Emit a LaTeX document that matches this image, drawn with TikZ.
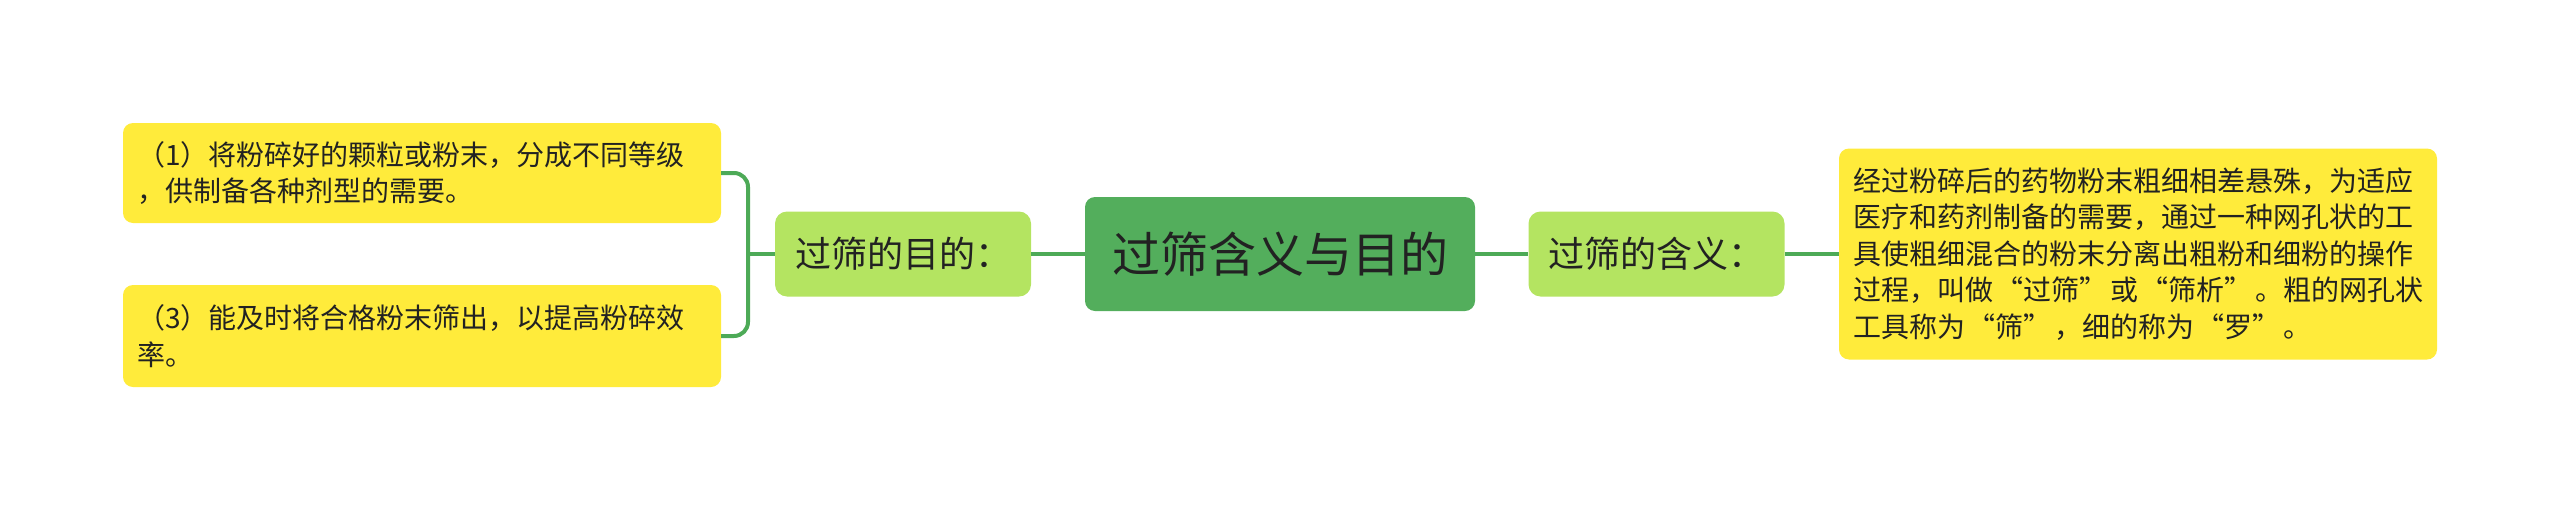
\documentclass[tikz,border=0pt]{standalone}
\usepackage{fontspec}
\setmainfont{Noto Sans CJK SC}
\newcommand\myqo{\kern0.09em“}
\newcommand\myqc{”\kern0.09em}
\definecolor{lineg}{HTML}{4DAA57}
\definecolor{rootg}{HTML}{53AE5C}
\definecolor{brg}{HTML}{B4E461}
\definecolor{leafy}{HTML}{FFEB3B}
\definecolor{txt}{HTML}{222222}
\begin{document}
\begin{tikzpicture}[x=1pt,y=-1pt,
  conn/.style={draw=lineg, line width=4pt},
  leaf/.style={fill=leafy, rounded corners=10pt, text width=570pt, align=left, inner sep=14pt, font=\fontsize{28pt}{36.6pt}\selectfont, text=txt},
  branch/.style={fill=brg, rounded corners=12pt, minimum width=256pt, minimum height=85pt, inner sep=0pt, font=\fontsize{36pt}{43pt}\selectfont, text=txt},
  root/.style={fill=rootg, rounded corners=10pt, minimum width=390pt, minimum height=114pt, inner sep=0pt, font=\fontsize{48pt}{58pt}\selectfont, text=txt}]
\useasboundingbox (0,0) rectangle (2560,509);
\node[root] (root) at (1280,254) {过筛含义与目的};
\node[branch] (lb) at (903,254) {过筛的目的：};
\node[branch] (rb) at (1656.5,254) {过筛的含义：};
\node[leaf, minimum height=100pt] (b1) at (422,173) {（1）将粉碎好的颗粒或粉末，分成不同等级\\，供制备各种剂型的需要。};
\node[leaf, minimum height=102pt] (b3) at (422,336) {（3）能及时将合格粉末筛出，以提高粉碎效\\率。};
\node[leaf, minimum height=211pt] (rbox) at (2138,254) {经过粉碎后的药物粉末粗细相差悬殊，为适应\\医疗和药剂制备的需要，通过一种网孔状的工\\具使粗细混合的粉末分离出粗粉和细粉的操作\\过程，叫做\myqo 过筛\myqc 或\myqo 筛析\myqc 。粗的网孔状\\工具称为\myqo 筛\myqc ，细的称为\myqo 罗\myqc 。};
\coordinate (bj) at (748,254);
\draw[conn] (root.west) -- (lb.east);
\draw[conn] (root.east) -- (rb.west);
\draw[conn] (rb.east) -- (rbox.west);
\draw[conn] (lb.west) -- (bj);
\draw[conn, rounded corners=14pt] (b1.east) -| (bj) |- (b3.east);
\end{tikzpicture}
\end{document}
